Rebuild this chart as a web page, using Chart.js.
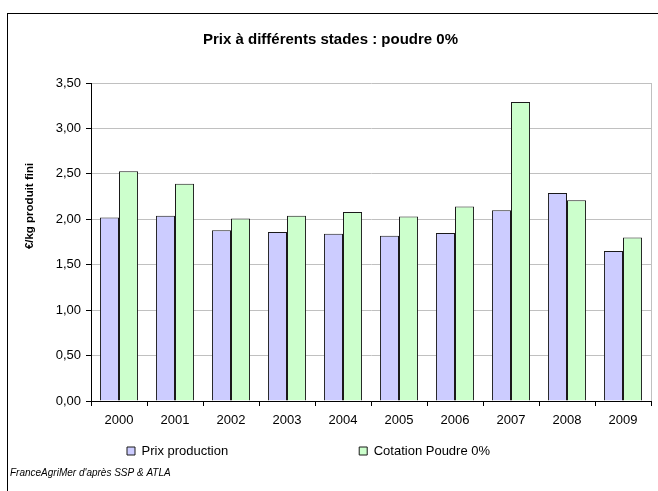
<!DOCTYPE html>
<html>
<head>
<meta charset="utf-8">
<script src="https://cdn.jsdelivr.net/npm/chart.js@4/dist/chart.umd.min.js"></script>
<style>
  html, body { margin: 0; padding: 0; background: #ffffff; }
  #wrap { position: relative; width: 658px; height: 491px; overflow: hidden; }
  canvas { display: block; }
</style>
</head>
<body>
<div id="wrap"><canvas id="c" width="658" height="491"></canvas></div>
<script>
const chartTitle = 'Prix à différents stades : poudre 0%';
const yAxisTitle = '€/kg produit fini';
const sourceNote = "FranceAgriMer d'après SSP & ATLA";
const years = ['2000', '2001', '2002', '2003', '2004', '2005', '2006', '2007', '2008', '2009'];
const seriesNames = ['Prix production', 'Cotation Poudre 0%'];
const prixProduction = [2.02, 2.04, 1.88, 1.86, 1.84, 1.82, 1.85, 2.10, 2.29, 1.65];
const cotationPoudre = [2.53, 2.39, 2.01, 2.04, 2.08, 2.03, 2.14, 3.29, 2.21, 1.80];
const yMin = 0, yMax = 3.5, yStep = 0.5;

const FONT = "'Liberation Sans', Arial, sans-serif";

const framePlugin = {
  id: 'frame',
  beforeDraw(chart) {
    const ctx = chart.ctx;
    ctx.save();
    ctx.fillStyle = '#ffffff';
    ctx.fillRect(0, 0, chart.width, chart.height);
    ctx.strokeStyle = '#000000';
    ctx.lineWidth = 1;
    ctx.strokeRect(7.5, 13.5, 800, 800);
    ctx.restore();
  },
  afterLayout(chart) {
    const lg = chart.legend;
    if (lg) {
      const pad = lg.options.labels.padding;
      lg.left = 127 - pad;
      lg.top = 451 - 6.5 - pad;
      lg.bottom = 470;
    }
  },
  afterDraw(chart) {
    const ctx = chart.ctx;
    const a = chart.chartArea;
    ctx.save();
    ctx.strokeStyle = '#c0c0c0';
    ctx.lineWidth = 1;
    ctx.beginPath();
    ctx.moveTo(Math.round(a.right) + 0.5, a.top);
    ctx.lineTo(Math.round(a.right) + 0.5, a.bottom);
    ctx.stroke();
    ctx.translate(30, 206);
    ctx.rotate(-Math.PI / 2);
    ctx.fillStyle = '#000000';
    ctx.font = 'bold 11.5px ' + FONT;
    ctx.textAlign = 'center';
    ctx.textBaseline = 'middle';
    ctx.fillText(yAxisTitle, 0, 0);
    ctx.restore();
  }
};

new Chart(document.getElementById('c'), {
  type: 'bar',
  data: {
    labels: years,
    datasets: [
      {
        label: seriesNames[0],
        data: prixProduction,
        backgroundColor: '#ccccff',
        borderColor: '#1a1a1a',
        borderWidth: 1,
        categoryPercentage: 0.68,
        barPercentage: 1.0
      },
      {
        label: seriesNames[1],
        data: cotationPoudre,
        backgroundColor: '#ccffcc',
        borderColor: '#1a1a1a',
        borderWidth: 1,
        categoryPercentage: 0.68,
        barPercentage: 1.0
      }
    ]
  },
  options: {
    responsive: false,
    animation: false,
    devicePixelRatio: 1,
    layout: { padding: { left: 10, right: 7, top: 14, bottom: 0 } },
    plugins: {
      title: {
        display: true,
        text: chartTitle,
        color: '#000000',
        font: { family: FONT, size: 15, weight: 'bold' },
        padding: { top: 17, bottom: 34 }
      },
      subtitle: {
        display: true,
        text: sourceNote,
        position: 'bottom',
        align: 'start',
        color: '#000000',
        font: { family: FONT, size: 10, style: 'italic' },
        padding: { top: 10, bottom: 12 }
      },
      legend: {
        display: true,
        position: 'bottom',
        align: 'start',
        maxHeight: 26,
        labels: {
          boxWidth: 8,
          boxHeight: 8,
          padding: 131,
          color: '#000000',
          font: { family: FONT, size: 13 }
        }
      },
      tooltip: { enabled: false }
    },
    scales: {
      x: {
        grid: {
          display: true,
          drawOnChartArea: false,
          drawTicks: true,
          tickLength: 5,
          tickColor: '#000000',
          offset: true
        },
        border: { display: true, color: '#000000', width: 1 },
        ticks: {
          color: '#000000',
          font: { family: FONT, size: 13 },
          padding: 7,
          maxRotation: 0
        },
        afterFit(scale) { scale.height = 30; }
      },
      y: {
        min: yMin,
        max: yMax,
        ticks: {
          stepSize: yStep,
          color: '#000000',
          font: { family: FONT, size: 13 },
          padding: 5,
          callback: (v) => Number(v).toFixed(2).replace('.', ',')
        },
        grid: {
          color: (c) => (c.tick && c.tick.value === 0 ? '#000000' : '#c0c0c0'),
          tickColor: '#000000',
          tickLength: 5,
          drawTicks: true
        },
        border: { display: true, color: '#000000', width: 1 },
        afterFit(scale) { scale.width = 81; }
      }
    }
  },
  plugins: [framePlugin]
});
</script>
</body>
</html>
